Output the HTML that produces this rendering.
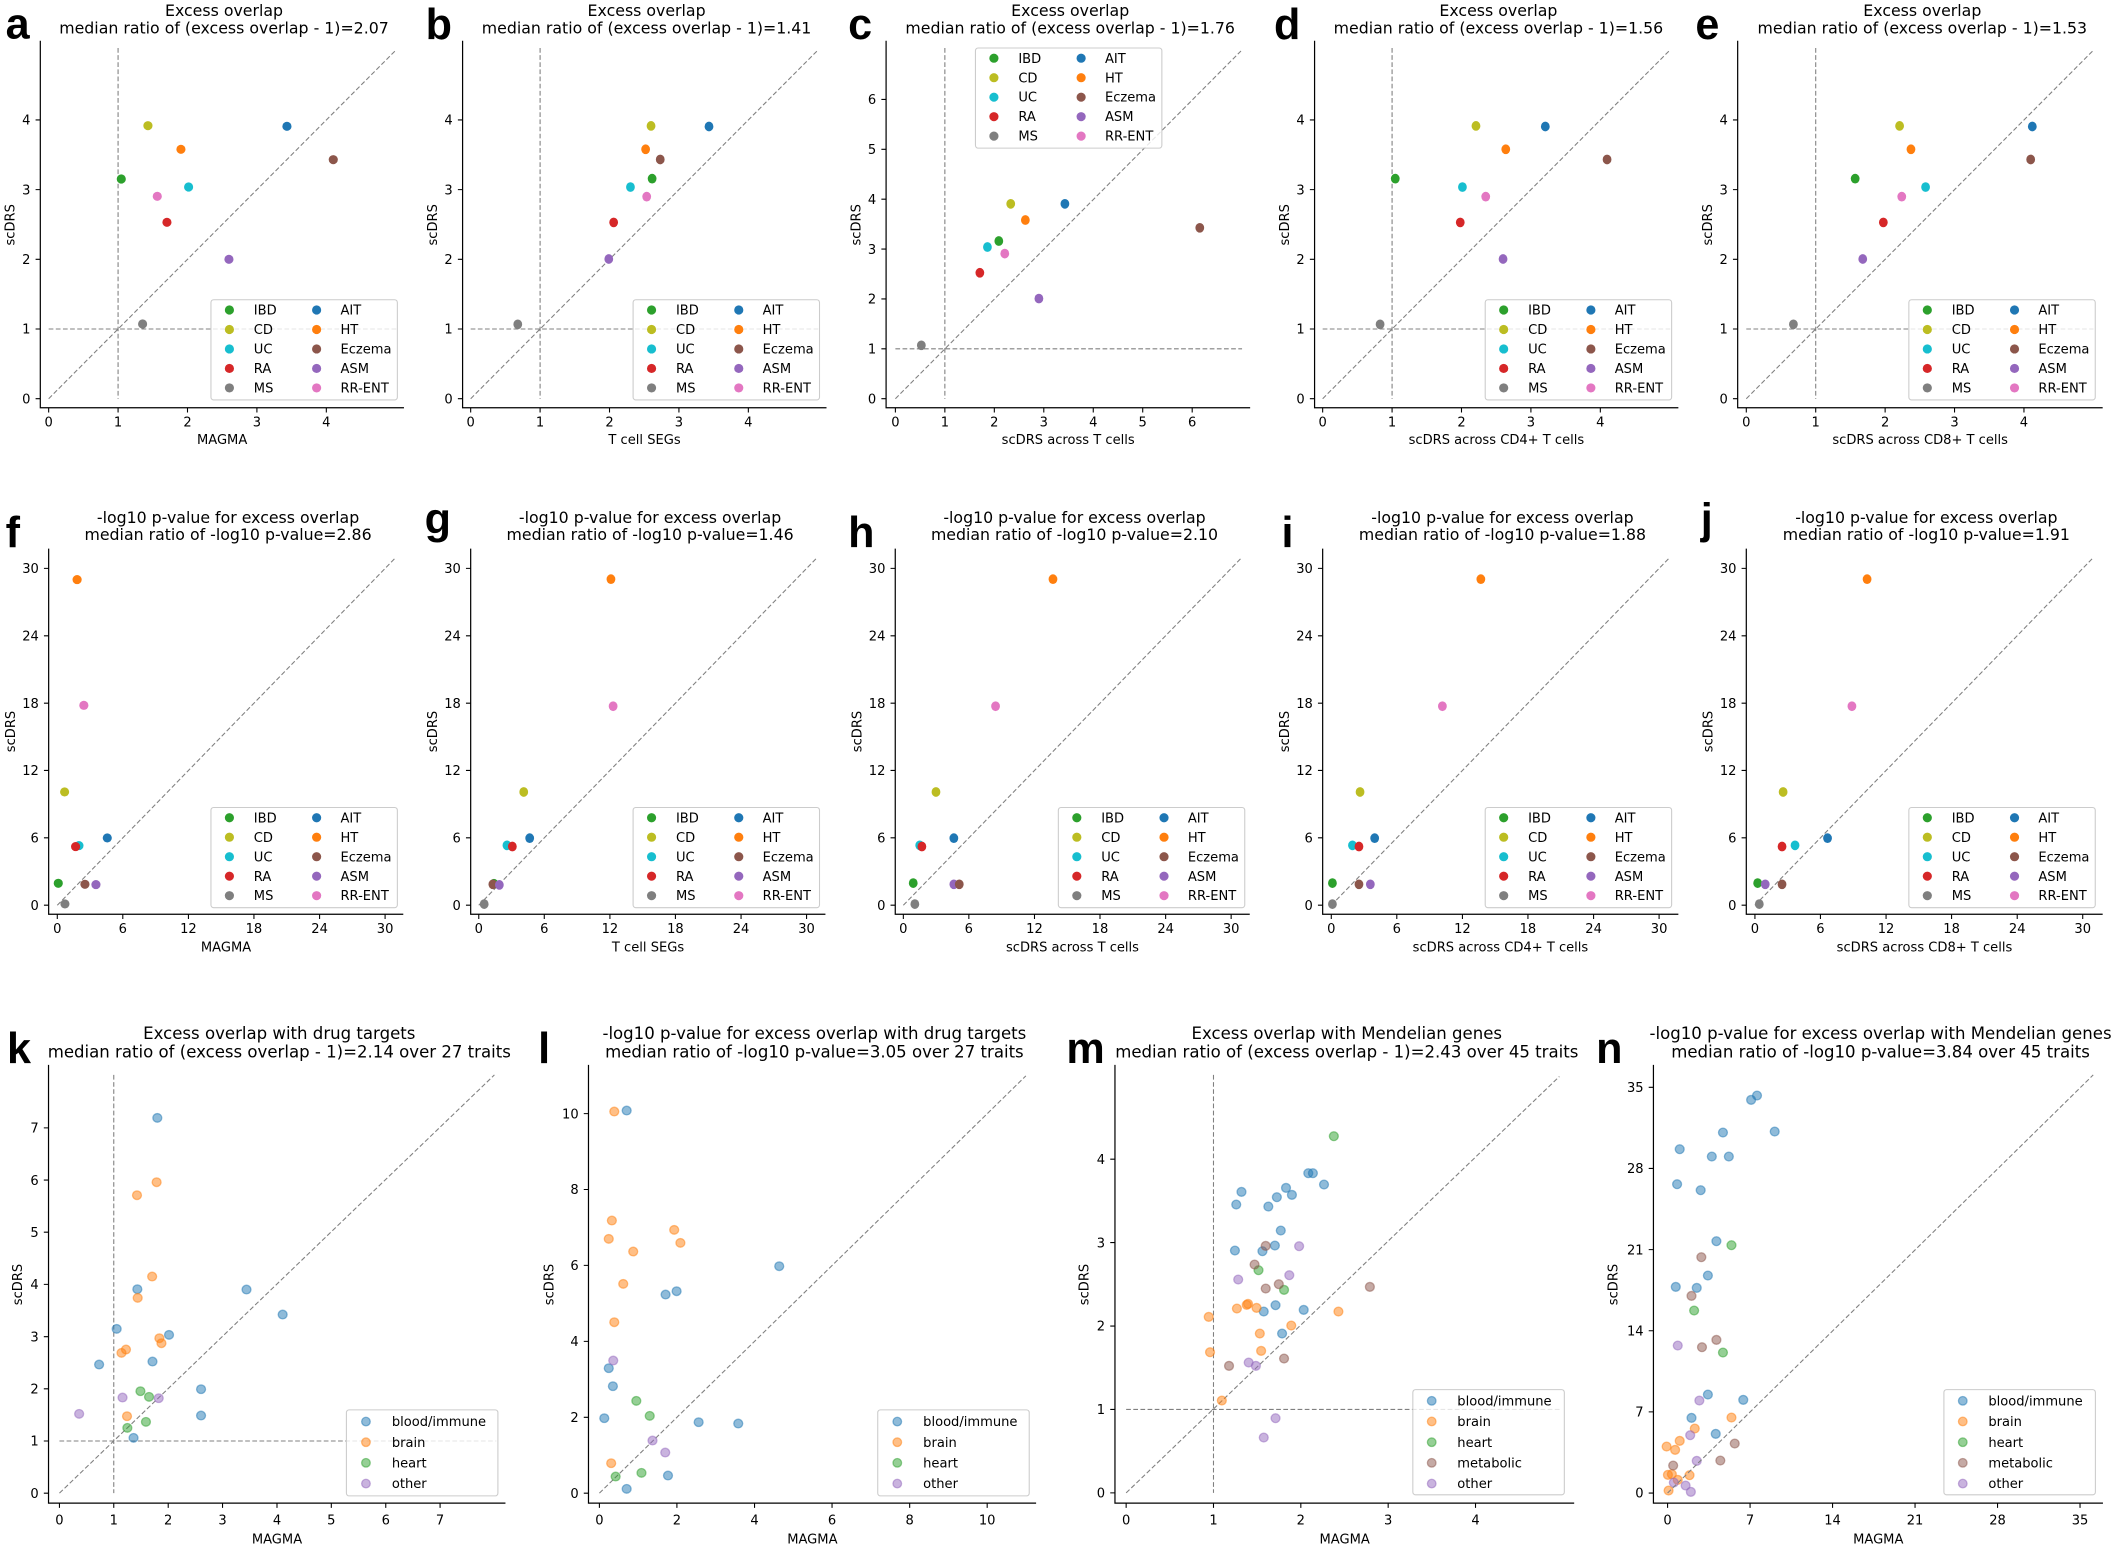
<!DOCTYPE html>
<html><head><meta charset="utf-8"><style>
html,body{margin:0;padding:0;background:#fff}
svg{display:block}
text{font-family:"DejaVu Sans","Liberation Sans",sans-serif;font-size:9.7px;fill:#000}
.t{font-size:11.7px;text-anchor:middle}
.t3{font-size:12.3px;text-anchor:middle}
.L{font-family:"Liberation Sans",sans-serif;font-weight:bold;font-size:32px}
.xt{text-anchor:middle}.yt{text-anchor:end}.yl{text-anchor:middle}
.sp{stroke:#000;stroke-width:.9;fill:none}
.tk{stroke:#000;stroke-width:.8;fill:none}
.d{stroke:#808080;stroke-width:.8;stroke-dasharray:3.5 1.8;fill:none}
.lg{fill:#fff;fill-opacity:.8;stroke:#ccc;stroke-width:.8}
.g{fill:#2ca02c}.o{fill:#bcbd22}.c{fill:#17becf}.r{fill:#d62728}.m{fill:#7f7f7f}
.b{fill:#1f77b4}.h{fill:#ff7f0e}.e{fill:#8c564b}.p{fill:#9467bd}.k{fill:#e377c2}
.a circle,.a ellipse{fill-opacity:.5;stroke-opacity:.5;stroke-width:1.3;vector-effect:non-scaling-stroke}
.a .b{stroke:#1f77b4}.a .h{stroke:#ff7f0e}.a .g{stroke:#2ca02c}.a .e{stroke:#8c564b}.a .p{stroke:#9467bd}
</style></head><body>
<svg width="2114" height="1546" viewBox="0 0 1568 1147" xmlns="http://www.w3.org/2000/svg">
<rect width="1568" height="1147" fill="#fff"/>

<!-- ================= ROW 1 ================= -->
<!-- panel a -->
<text class="L" x="4" y="28.5">a</text>
<text class="t" x="166" y="11.9">Excess overlap</text>
<text class="t" x="166" y="24.8">median ratio of (excess overlap - 1)=2.07</text>
<path class="d" d="M87.4 35.6V295.8M35.9 244.1H294M35.9 295.8L293.4 37.3"/>
<path class="sp" d="M29.7 30.2V302.5H299.5"/>
<path class="tk" d="M35.9 302.5v3.5M87.4 302.5v3.5M138.9 302.5v3.5M190.4 302.5v3.5M241.9 302.5v3.5M29.7 295.8h-3.5M29.7 244.1h-3.5M29.7 192.4h-3.5M29.7 140.7h-3.5M29.7 89h-3.5"/>
<text class="xt" x="35.9" y="316.3">0</text><text class="xt" x="87.4" y="316.3">1</text><text class="xt" x="138.9" y="316.3">2</text><text class="xt" x="190.4" y="316.3">3</text><text class="xt" x="241.9" y="316.3">4</text>
<text class="yt" x="22.4" y="299.3">0</text><text class="yt" x="22.4" y="247.6">1</text><text class="yt" x="22.4" y="195.9">2</text><text class="yt" x="22.4" y="144.2">3</text><text class="yt" x="22.4" y="92.5">4</text>
<text class="xt" x="164.6" y="329.5">MAGMA</text>
<text class="yl" transform="translate(10.6,166.8) rotate(-90)">scDRS</text>
<g transform="scale(0.2473)">
<circle class="g" cx="363" cy="537" r="13.7"/><circle class="o" cx="443" cy="377" r="13.7"/><circle class="h" cx="542" cy="448" r="13.7"/><circle class="c" cx="565" cy="561" r="13.7"/><circle class="k" cx="471" cy="589" r="13.7"/><circle class="r" cx="500" cy="667" r="13.7"/><circle class="p" cx="686" cy="778" r="13.7"/><circle class="b" cx="860" cy="379" r="13.7"/><circle class="e" cx="999" cy="479" r="13.7"/><circle class="m" cx="427" cy="972" r="13.7"/>
</g>
<g transform="translate(156.3,222.4)">
<rect class="lg" width="138.3" height="74.3" rx="2"/>
<circle class="g" cx="13.7" cy="7.6" r="3.4"/><circle class="o" cx="13.7" cy="22.05" r="3.4"/><circle class="c" cx="13.7" cy="36.5" r="3.4"/><circle class="r" cx="13.7" cy="50.95" r="3.4"/><circle class="m" cx="13.7" cy="65.4" r="3.4"/>
<circle class="b" cx="78.4" cy="7.6" r="3.4"/><circle class="h" cx="78.4" cy="22.05" r="3.4"/><circle class="e" cx="78.4" cy="36.5" r="3.4"/><circle class="p" cx="78.4" cy="50.95" r="3.4"/><circle class="k" cx="78.4" cy="65.4" r="3.4"/>
<text x="31.8" y="11">IBD</text><text x="31.8" y="25.45">CD</text><text x="31.8" y="39.9">UC</text><text x="31.8" y="54.35">RA</text><text x="31.8" y="68.8">MS</text>
<text x="96.1" y="11">AIT</text><text x="96.1" y="25.45">HT</text><text x="96.1" y="39.9">Eczema</text><text x="96.1" y="54.35">ASM</text><text x="96.1" y="68.8">RR-ENT</text>
</g>

<!-- panel b -->
<text class="L" x="315.6" y="28.9">b</text>
<text class="t" x="479.5" y="11.9">Excess overlap</text>
<text class="t" x="479.5" y="24.8">median ratio of (excess overlap - 1)=1.41</text>
<path class="d" d="M400.5 35.6V295.8M349 244.1H607M349 295.8L606.5 37.3"/>
<path class="sp" d="M343 30.2V302.5H613"/>
<path class="tk" d="M349 302.5v3.5M400.5 302.5v3.5M452 302.5v3.5M503.5 302.5v3.5M555 302.5v3.5M343 295.8h-3.5M343 244.1h-3.5M343 192.4h-3.5M343 140.7h-3.5M343 89h-3.5"/>
<text class="xt" x="349" y="316.3">0</text><text class="xt" x="400.5" y="316.3">1</text><text class="xt" x="452" y="316.3">2</text><text class="xt" x="503.5" y="316.3">3</text><text class="xt" x="555" y="316.3">4</text>
<text class="yt" x="335.7" y="299.3">0</text><text class="yt" x="335.7" y="247.6">1</text><text class="yt" x="335.7" y="195.9">2</text><text class="yt" x="335.7" y="144.2">3</text><text class="yt" x="335.7" y="92.5">4</text>
<text class="xt" x="478" y="329.5">T cell SEGs</text>
<text class="yl" transform="translate(323.9,166.8) rotate(-90)">scDRS</text>

<!-- panel c -->
<text class="L" x="629" y="28.9">c</text>
<text class="t" x="793.8" y="11.9">Excess overlap</text>
<text class="t" x="793.8" y="24.8">median ratio of (excess overlap - 1)=1.76</text>
<path class="d" d="M700.8 35.6V295.8M664.1 258.8H921.3M664.1 295.8L920.5 37.8"/>
<path class="sp" d="M657.2 30.2V302.5H927.3"/>
<path class="tk" d="M664.1 302.5v3.5M700.8 302.5v3.5M737.5 302.5v3.5M774.2 302.5v3.5M810.9 302.5v3.5M847.6 302.5v3.5M884.3 302.5v3.5M657.2 295.8h-3.5M657.2 258.8h-3.5M657.2 221.8h-3.5M657.2 184.8h-3.5M657.2 147.8h-3.5M657.2 110.8h-3.5M657.2 73.8h-3.5"/>
<text class="xt" x="664.1" y="316.3">0</text><text class="xt" x="700.8" y="316.3">1</text><text class="xt" x="737.5" y="316.3">2</text><text class="xt" x="774.2" y="316.3">3</text><text class="xt" x="810.9" y="316.3">4</text><text class="xt" x="847.6" y="316.3">5</text><text class="xt" x="884.3" y="316.3">6</text>
<text class="yt" x="649.9" y="299.3">0</text><text class="yt" x="649.9" y="262.3">1</text><text class="yt" x="649.9" y="225.3">2</text><text class="yt" x="649.9" y="188.3">3</text><text class="yt" x="649.9" y="151.3">4</text><text class="yt" x="649.9" y="114.3">5</text><text class="yt" x="649.9" y="77.3">6</text>
<text class="xt" x="792.3" y="329.5">scDRS across T cells</text>
<text class="yl" transform="translate(638.1,166.8) rotate(-90)">scDRS</text>

<!-- panel d -->
<text class="L" x="945" y="28.9">d</text>
<text class="t" x="1111.5" y="11.9">Excess overlap</text>
<text class="t" x="1111.5" y="24.8">median ratio of (excess overlap - 1)=1.56</text>
<path class="d" d="M1032.6 35.6V295.8M981.1 244.1H1239M981.1 295.8L1238.6 37.3"/>
<path class="sp" d="M975.1 30.2V302.5H1245"/>
<path class="tk" d="M981.1 302.5v3.5M1032.6 302.5v3.5M1084.1 302.5v3.5M1135.6 302.5v3.5M1187.1 302.5v3.5M975.1 295.8h-3.5M975.1 244.1h-3.5M975.1 192.4h-3.5M975.1 140.7h-3.5M975.1 89h-3.5"/>
<text class="xt" x="981.1" y="316.3">0</text><text class="xt" x="1032.6" y="316.3">1</text><text class="xt" x="1084.1" y="316.3">2</text><text class="xt" x="1135.6" y="316.3">3</text><text class="xt" x="1187.1" y="316.3">4</text>
<text class="yt" x="967.8" y="299.3">0</text><text class="yt" x="967.8" y="247.6">1</text><text class="yt" x="967.8" y="195.9">2</text><text class="yt" x="967.8" y="144.2">3</text><text class="yt" x="967.8" y="92.5">4</text>
<text class="xt" x="1110" y="329.5">scDRS across CD4+ T cells</text>
<text class="yl" transform="translate(956,166.8) rotate(-90)">scDRS</text>

<!-- panel e -->
<text class="L" x="1257.6" y="28.9">e</text>
<text class="t" x="1426" y="11.9">Excess overlap</text>
<text class="t" x="1426" y="24.8">median ratio of (excess overlap - 1)=1.53</text>
<path class="d" d="M1346.9 35.6V295.8M1295.4 244.1H1553M1295.4 295.8L1552.9 37.3"/>
<path class="sp" d="M1289 30.2V302.5H1559.8"/>
<path class="tk" d="M1295.4 302.5v3.5M1346.9 302.5v3.5M1398.4 302.5v3.5M1449.9 302.5v3.5M1501.4 302.5v3.5M1289 295.8h-3.5M1289 244.1h-3.5M1289 192.4h-3.5M1289 140.7h-3.5M1289 89h-3.5"/>
<text class="xt" x="1295.4" y="316.3">0</text><text class="xt" x="1346.9" y="316.3">1</text><text class="xt" x="1398.4" y="316.3">2</text><text class="xt" x="1449.9" y="316.3">3</text><text class="xt" x="1501.4" y="316.3">4</text>
<text class="yt" x="1281.7" y="299.3">0</text><text class="yt" x="1281.7" y="247.6">1</text><text class="yt" x="1281.7" y="195.9">2</text><text class="yt" x="1281.7" y="144.2">3</text><text class="yt" x="1281.7" y="92.5">4</text>
<text class="xt" x="1424.4" y="329.5">scDRS across CD8+ T cells</text>
<text class="yl" transform="translate(1269.9,166.8) rotate(-90)">scDRS</text>

<!-- ================= ROW 2 ================= -->
<!-- f -->
<text class="L" x="4" y="405.7">f</text>
<text class="t" x="169" y="388.2">-log10 p-value for excess overlap</text>
<text class="t" x="169" y="400.6">median ratio of -log10 p-value=2.86</text>
<path class="d" d="M42.3 671.6L293.5 413.5"/>
<path class="sp" d="M35.9 407V678.3H299"/>
<path class="tk" d="M42.3 678.3v3.5M90.9 678.3v3.5M139.6 678.3v3.5M188.2 678.3v3.5M236.9 678.3v3.5M285.5 678.3v3.5M35.9 671.6h-3.5M35.9 621.6h-3.5M35.9 571.6h-3.5M35.9 521.7h-3.5M35.9 471.7h-3.5M35.9 421.7h-3.5"/>
<text class="xt" x="42.3" y="692.1">0</text><text class="xt" x="90.9" y="692.1">6</text><text class="xt" x="139.6" y="692.1">12</text><text class="xt" x="188.2" y="692.1">18</text><text class="xt" x="236.9" y="692.1">24</text><text class="xt" x="285.5" y="692.1">30</text>
<text class="yt" x="28.6" y="675.1">0</text><text class="yt" x="28.6" y="625.1">6</text><text class="yt" x="28.6" y="575.1">12</text><text class="yt" x="28.6" y="525.2">18</text><text class="yt" x="28.6" y="475.2">24</text><text class="yt" x="28.6" y="425.2">30</text>
<text class="xt" x="167.5" y="706">MAGMA</text>
<text class="yl" transform="translate(10.8,542.7) rotate(-90)">scDRS</text>
<g transform="translate(0,563.8) scale(0.2473)">
<circle class="o" cx="193" cy="96" r="13.7"/><circle class="b" cx="321" cy="234" r="13.7"/><circle class="c" cx="236" cy="257" r="13.7"/><circle class="r" cx="226" cy="260" r="13.7"/><circle class="g" cx="174" cy="370" r="13.7"/><circle class="e" cx="254" cy="373" r="13.7"/><circle class="p" cx="287" cy="374" r="13.7"/><circle class="m" cx="194" cy="432" r="13.7"/>
</g>
<circle class="h" cx="57" cy="430" r="3.4"/><circle class="k" cx="62" cy="523.3" r="3.4"/>

<!-- g -->
<text class="L" x="314.8" y="396">g</text>
<text class="t" x="482.1" y="388.2">-log10 p-value for excess overlap</text>
<text class="t" x="482.1" y="400.6">median ratio of -log10 p-value=1.46</text>
<path class="d" d="M355 671.6L606.2 413.5"/>
<path class="sp" d="M349 407V678.3H612.2"/>
<path class="tk" d="M355 678.3v3.5M403.6 678.3v3.5M452.3 678.3v3.5M500.9 678.3v3.5M549.6 678.3v3.5M598.2 678.3v3.5M349 671.6h-3.5M349 621.6h-3.5M349 571.6h-3.5M349 521.7h-3.5M349 471.7h-3.5M349 421.7h-3.5"/>
<text class="xt" x="355" y="692.1">0</text><text class="xt" x="403.6" y="692.1">6</text><text class="xt" x="452.3" y="692.1">12</text><text class="xt" x="500.9" y="692.1">18</text><text class="xt" x="549.6" y="692.1">24</text><text class="xt" x="598.2" y="692.1">30</text>
<text class="yt" x="341.7" y="675.1">0</text><text class="yt" x="341.7" y="625.1">6</text><text class="yt" x="341.7" y="575.1">12</text><text class="yt" x="341.7" y="525.2">18</text><text class="yt" x="341.7" y="475.2">24</text><text class="yt" x="341.7" y="425.2">30</text>
<text class="xt" x="480.6" y="706">T cell SEGs</text>
<text class="yl" transform="translate(323.9,542.7) rotate(-90)">scDRS</text>

<!-- h -->
<text class="L" x="629" y="405.7">h</text>
<text class="t" x="797" y="388.2">-log10 p-value for excess overlap</text>
<text class="t" x="797" y="400.6">median ratio of -log10 p-value=2.10</text>
<path class="d" d="M670 671.6L921.2 413.5"/>
<path class="sp" d="M664 407V678.3H927"/>
<path class="tk" d="M670 678.3v3.5M718.6 678.3v3.5M767.3 678.3v3.5M815.9 678.3v3.5M864.6 678.3v3.5M913.2 678.3v3.5M664 671.6h-3.5M664 621.6h-3.5M664 571.6h-3.5M664 521.7h-3.5M664 471.7h-3.5M664 421.7h-3.5"/>
<text class="xt" x="670" y="692.1">0</text><text class="xt" x="718.6" y="692.1">6</text><text class="xt" x="767.3" y="692.1">12</text><text class="xt" x="815.9" y="692.1">18</text><text class="xt" x="864.6" y="692.1">24</text><text class="xt" x="913.2" y="692.1">30</text>
<text class="yt" x="656.7" y="675.1">0</text><text class="yt" x="656.7" y="625.1">6</text><text class="yt" x="656.7" y="575.1">12</text><text class="yt" x="656.7" y="525.2">18</text><text class="yt" x="656.7" y="475.2">24</text><text class="yt" x="656.7" y="425.2">30</text>
<text class="xt" x="795.5" y="706">scDRS across T cells</text>
<text class="yl" transform="translate(638.9,542.7) rotate(-90)">scDRS</text>

<!-- i -->
<text class="L" x="950.6" y="405.7">i</text>
<text class="t" x="1114.5" y="388.2">-log10 p-value for excess overlap</text>
<text class="t" x="1114.5" y="400.6">median ratio of -log10 p-value=1.88</text>
<path class="d" d="M987.5 671.6L1238.7 413.5"/>
<path class="sp" d="M981.1 407V678.3H1245"/>
<path class="tk" d="M987.5 678.3v3.5M1036.1 678.3v3.5M1084.8 678.3v3.5M1133.4 678.3v3.5M1182.1 678.3v3.5M1230.7 678.3v3.5M981.1 671.6h-3.5M981.1 621.6h-3.5M981.1 571.6h-3.5M981.1 521.7h-3.5M981.1 471.7h-3.5M981.1 421.7h-3.5"/>
<text class="xt" x="987.5" y="692.1">0</text><text class="xt" x="1036.1" y="692.1">6</text><text class="xt" x="1084.8" y="692.1">12</text><text class="xt" x="1133.4" y="692.1">18</text><text class="xt" x="1182.1" y="692.1">24</text><text class="xt" x="1230.7" y="692.1">30</text>
<text class="yt" x="973.8" y="675.1">0</text><text class="yt" x="973.8" y="625.1">6</text><text class="yt" x="973.8" y="575.1">12</text><text class="yt" x="973.8" y="525.2">18</text><text class="yt" x="973.8" y="475.2">24</text><text class="yt" x="973.8" y="425.2">30</text>
<text class="xt" x="1113" y="706">scDRS across CD4+ T cells</text>
<text class="yl" transform="translate(956,542.7) rotate(-90)">scDRS</text>

<!-- j -->
<text class="L" x="1261.6" y="396">j</text>
<text class="t" x="1429" y="388.2">-log10 p-value for excess overlap</text>
<text class="t" x="1429" y="400.6">median ratio of -log10 p-value=1.91</text>
<path class="d" d="M1301.8 671.6L1553 413.5"/>
<path class="sp" d="M1295.4 407V678.3H1559.8"/>
<path class="tk" d="M1301.8 678.3v3.5M1350.4 678.3v3.5M1399.1 678.3v3.5M1447.7 678.3v3.5M1496.4 678.3v3.5M1545 678.3v3.5M1295.4 671.6h-3.5M1295.4 621.6h-3.5M1295.4 571.6h-3.5M1295.4 521.7h-3.5M1295.4 471.7h-3.5M1295.4 421.7h-3.5"/>
<text class="xt" x="1301.8" y="692.1">0</text><text class="xt" x="1350.4" y="692.1">6</text><text class="xt" x="1399.1" y="692.1">12</text><text class="xt" x="1447.7" y="692.1">18</text><text class="xt" x="1496.4" y="692.1">24</text><text class="xt" x="1545" y="692.1">30</text>
<text class="yt" x="1288.1" y="675.1">0</text><text class="yt" x="1288.1" y="625.1">6</text><text class="yt" x="1288.1" y="575.1">12</text><text class="yt" x="1288.1" y="525.2">18</text><text class="yt" x="1288.1" y="475.2">24</text><text class="yt" x="1288.1" y="425.2">30</text>
<text class="xt" x="1427.6" y="706">scDRS across CD8+ T cells</text>
<text class="yl" transform="translate(1270.3,542.7) rotate(-90)">scDRS</text>

<!-- scatter points from zoom 7 (b,c,g,h) -->
<g transform="translate(311.6,0) scale(0.4019,0.4448)">
<circle class="o" cx="426" cy="210" r="8.1"/><circle class="b" cx="533" cy="211" r="8.1"/><circle class="h" cx="416" cy="249" r="8.1"/><circle class="e" cx="443" cy="266" r="8.1"/><circle class="g" cx="428" cy="298" r="8.1"/><circle class="c" cx="388" cy="312" r="8.1"/><circle class="k" cx="418" cy="328" r="8.1"/><circle class="r" cx="357" cy="371" r="8.1"/><circle class="p" cx="348" cy="432" r="8.1"/><circle class="m" cx="180" cy="541" r="8.1"/>
<circle class="o" cx="1090" cy="340" r="8.1"/><circle class="b" cx="1190" cy="340" r="8.1"/><circle class="h" cx="1117" cy="367" r="8.1"/><circle class="e" cx="1439" cy="380" r="8.1"/><circle class="g" cx="1068" cy="402" r="8.1"/><circle class="c" cx="1047" cy="412" r="8.1"/><circle class="k" cx="1079" cy="423" r="8.1"/><circle class="r" cx="1033" cy="455" r="8.1"/><circle class="p" cx="1142" cy="498" r="8.1"/><circle class="m" cx="925" cy="576" r="8.1"/>
<circle class="h" cx="352" cy="966" r="8.1"/><circle class="k" cx="356" cy="1178" r="8.1"/><circle class="o" cx="191" cy="1321" r="8.1"/><circle class="b" cx="202" cy="1398" r="8.1"/><circle class="c" cx="160" cy="1410" r="8.1"/><circle class="r" cx="170" cy="1412" r="8.1"/><circle class="g" cx="136" cy="1474" r="8.1"/><circle class="e" cx="134" cy="1475" r="8.1"/><circle class="p" cx="146" cy="1476" r="8.1"/><circle class="m" cx="118" cy="1508" r="8.1"/>
<circle class="h" cx="1168" cy="966" r="8.1"/><circle class="k" cx="1062" cy="1178" r="8.1"/><circle class="o" cx="952" cy="1321" r="8.1"/><circle class="b" cx="985" cy="1398" r="8.1"/><circle class="c" cx="922" cy="1410" r="8.1"/><circle class="r" cx="926" cy="1412" r="8.1"/><circle class="g" cx="910" cy="1473" r="8.1"/><circle class="p" cx="985" cy="1475" r="8.1"/><circle class="e" cx="995" cy="1475" r="8.1"/><circle class="m" cx="913" cy="1508" r="8.1"/>
</g>
<!-- scatter points from zoom 8 (d,e,i,j) -->
<g transform="translate(937.7,0) scale(0.4019,0.4448)">
<circle class="o" cx="391" cy="210" r="8.1"/><circle class="b" cx="519" cy="211" r="8.1"/><circle class="h" cx="446" cy="249" r="8.1"/><circle class="e" cx="633" cy="266" r="8.1"/><circle class="g" cx="242" cy="298" r="8.1"/><circle class="c" cx="366" cy="312" r="8.1"/><circle class="k" cx="409" cy="328" r="8.1"/><circle class="r" cx="362" cy="371" r="8.1"/><circle class="p" cx="441" cy="432" r="8.1"/><circle class="m" cx="214" cy="541" r="8.1"/>
<circle class="o" cx="1173" cy="210" r="8.1"/><circle class="b" cx="1418" cy="211" r="8.1"/><circle class="h" cx="1194" cy="249" r="8.1"/><circle class="e" cx="1415" cy="266" r="8.1"/><circle class="g" cx="1091" cy="298" r="8.1"/><circle class="c" cx="1221" cy="312" r="8.1"/><circle class="k" cx="1177" cy="328" r="8.1"/><circle class="r" cx="1143" cy="371" r="8.1"/><circle class="p" cx="1105" cy="432" r="8.1"/><circle class="m" cx="977" cy="541" r="8.1"/>
<circle class="h" cx="400" cy="966" r="8.1"/><circle class="k" cx="329" cy="1178" r="8.1"/><circle class="o" cx="177" cy="1321" r="8.1"/><circle class="b" cx="204" cy="1398" r="8.1"/><circle class="c" cx="163" cy="1410" r="8.1"/><circle class="r" cx="175" cy="1412" r="8.1"/><circle class="g" cx="126" cy="1473" r="8.1"/><circle class="e" cx="175" cy="1475" r="8.1"/><circle class="p" cx="196" cy="1475" r="8.1"/><circle class="m" cx="126" cy="1508" r="8.1"/>
<circle class="h" cx="1113" cy="966" r="8.1"/><circle class="k" cx="1085" cy="1178" r="8.1"/><circle class="o" cx="958" cy="1321" r="8.1"/><circle class="b" cx="1040" cy="1398" r="8.1"/><circle class="c" cx="980" cy="1410" r="8.1"/><circle class="r" cx="956" cy="1412" r="8.1"/><circle class="g" cx="911" cy="1473" r="8.1"/><circle class="p" cx="925" cy="1475" r="8.1"/><circle class="e" cx="956" cy="1475" r="8.1"/><circle class="m" cx="914" cy="1508" r="8.1"/>
</g>

<!-- legends rows 1-2 -->
<g transform="translate(469.5,222.4)">
<rect class="lg" width="138.3" height="74.3" rx="2"/>
<circle class="g" cx="13.7" cy="7.6" r="3.4"/><circle class="o" cx="13.7" cy="22.05" r="3.4"/><circle class="c" cx="13.7" cy="36.5" r="3.4"/><circle class="r" cx="13.7" cy="50.95" r="3.4"/><circle class="m" cx="13.7" cy="65.4" r="3.4"/>
<circle class="b" cx="78.4" cy="7.6" r="3.4"/><circle class="h" cx="78.4" cy="22.05" r="3.4"/><circle class="e" cx="78.4" cy="36.5" r="3.4"/><circle class="p" cx="78.4" cy="50.95" r="3.4"/><circle class="k" cx="78.4" cy="65.4" r="3.4"/>
<text x="31.8" y="11">IBD</text><text x="31.8" y="25.45">CD</text><text x="31.8" y="39.9">UC</text><text x="31.8" y="54.35">RA</text><text x="31.8" y="68.8">MS</text>
<text x="96.1" y="11">AIT</text><text x="96.1" y="25.45">HT</text><text x="96.1" y="39.9">Eczema</text><text x="96.1" y="54.35">ASM</text><text x="96.1" y="68.8">RR-ENT</text>
</g>
<g transform="translate(723.5,35.6)">
<rect class="lg" width="138.3" height="74.3" rx="2"/>
<circle class="g" cx="13.7" cy="7.6" r="3.4"/><circle class="o" cx="13.7" cy="22.05" r="3.4"/><circle class="c" cx="13.7" cy="36.5" r="3.4"/><circle class="r" cx="13.7" cy="50.95" r="3.4"/><circle class="m" cx="13.7" cy="65.4" r="3.4"/>
<circle class="b" cx="78.4" cy="7.6" r="3.4"/><circle class="h" cx="78.4" cy="22.05" r="3.4"/><circle class="e" cx="78.4" cy="36.5" r="3.4"/><circle class="p" cx="78.4" cy="50.95" r="3.4"/><circle class="k" cx="78.4" cy="65.4" r="3.4"/>
<text x="31.8" y="11">IBD</text><text x="31.8" y="25.45">CD</text><text x="31.8" y="39.9">UC</text><text x="31.8" y="54.35">RA</text><text x="31.8" y="68.8">MS</text>
<text x="96.1" y="11">AIT</text><text x="96.1" y="25.45">HT</text><text x="96.1" y="39.9">Eczema</text><text x="96.1" y="54.35">ASM</text><text x="96.1" y="68.8">RR-ENT</text>
</g>
<g transform="translate(1101.7,222.4)">
<rect class="lg" width="138.3" height="74.3" rx="2"/>
<circle class="g" cx="13.7" cy="7.6" r="3.4"/><circle class="o" cx="13.7" cy="22.05" r="3.4"/><circle class="c" cx="13.7" cy="36.5" r="3.4"/><circle class="r" cx="13.7" cy="50.95" r="3.4"/><circle class="m" cx="13.7" cy="65.4" r="3.4"/>
<circle class="b" cx="78.4" cy="7.6" r="3.4"/><circle class="h" cx="78.4" cy="22.05" r="3.4"/><circle class="e" cx="78.4" cy="36.5" r="3.4"/><circle class="p" cx="78.4" cy="50.95" r="3.4"/><circle class="k" cx="78.4" cy="65.4" r="3.4"/>
<text x="31.8" y="11">IBD</text><text x="31.8" y="25.45">CD</text><text x="31.8" y="39.9">UC</text><text x="31.8" y="54.35">RA</text><text x="31.8" y="68.8">MS</text>
<text x="96.1" y="11">AIT</text><text x="96.1" y="25.45">HT</text><text x="96.1" y="39.9">Eczema</text><text x="96.1" y="54.35">ASM</text><text x="96.1" y="68.8">RR-ENT</text>
</g>
<g transform="translate(1416,222.4)">
<rect class="lg" width="138.3" height="74.3" rx="2"/>
<circle class="g" cx="13.7" cy="7.6" r="3.4"/><circle class="o" cx="13.7" cy="22.05" r="3.4"/><circle class="c" cx="13.7" cy="36.5" r="3.4"/><circle class="r" cx="13.7" cy="50.95" r="3.4"/><circle class="m" cx="13.7" cy="65.4" r="3.4"/>
<circle class="b" cx="78.4" cy="7.6" r="3.4"/><circle class="h" cx="78.4" cy="22.05" r="3.4"/><circle class="e" cx="78.4" cy="36.5" r="3.4"/><circle class="p" cx="78.4" cy="50.95" r="3.4"/><circle class="k" cx="78.4" cy="65.4" r="3.4"/>
<text x="31.8" y="11">IBD</text><text x="31.8" y="25.45">CD</text><text x="31.8" y="39.9">UC</text><text x="31.8" y="54.35">RA</text><text x="31.8" y="68.8">MS</text>
<text x="96.1" y="11">AIT</text><text x="96.1" y="25.45">HT</text><text x="96.1" y="39.9">Eczema</text><text x="96.1" y="54.35">ASM</text><text x="96.1" y="68.8">RR-ENT</text>
</g>
<g transform="translate(156.3,599.1)">
<rect class="lg" width="138.3" height="74.3" rx="2"/>
<circle class="g" cx="13.7" cy="7.6" r="3.4"/><circle class="o" cx="13.7" cy="22.05" r="3.4"/><circle class="c" cx="13.7" cy="36.5" r="3.4"/><circle class="r" cx="13.7" cy="50.95" r="3.4"/><circle class="m" cx="13.7" cy="65.4" r="3.4"/>
<circle class="b" cx="78.4" cy="7.6" r="3.4"/><circle class="h" cx="78.4" cy="22.05" r="3.4"/><circle class="e" cx="78.4" cy="36.5" r="3.4"/><circle class="p" cx="78.4" cy="50.95" r="3.4"/><circle class="k" cx="78.4" cy="65.4" r="3.4"/>
<text x="31.8" y="11">IBD</text><text x="31.8" y="25.45">CD</text><text x="31.8" y="39.9">UC</text><text x="31.8" y="54.35">RA</text><text x="31.8" y="68.8">MS</text>
<text x="96.1" y="11">AIT</text><text x="96.1" y="25.45">HT</text><text x="96.1" y="39.9">Eczema</text><text x="96.1" y="54.35">ASM</text><text x="96.1" y="68.8">RR-ENT</text>
</g>
<g transform="translate(469.5,599.1)">
<rect class="lg" width="138.3" height="74.3" rx="2"/>
<circle class="g" cx="13.7" cy="7.6" r="3.4"/><circle class="o" cx="13.7" cy="22.05" r="3.4"/><circle class="c" cx="13.7" cy="36.5" r="3.4"/><circle class="r" cx="13.7" cy="50.95" r="3.4"/><circle class="m" cx="13.7" cy="65.4" r="3.4"/>
<circle class="b" cx="78.4" cy="7.6" r="3.4"/><circle class="h" cx="78.4" cy="22.05" r="3.4"/><circle class="e" cx="78.4" cy="36.5" r="3.4"/><circle class="p" cx="78.4" cy="50.95" r="3.4"/><circle class="k" cx="78.4" cy="65.4" r="3.4"/>
<text x="31.8" y="11">IBD</text><text x="31.8" y="25.45">CD</text><text x="31.8" y="39.9">UC</text><text x="31.8" y="54.35">RA</text><text x="31.8" y="68.8">MS</text>
<text x="96.1" y="11">AIT</text><text x="96.1" y="25.45">HT</text><text x="96.1" y="39.9">Eczema</text><text x="96.1" y="54.35">ASM</text><text x="96.1" y="68.8">RR-ENT</text>
</g>
<g transform="translate(785,599.1)">
<rect class="lg" width="138.3" height="74.3" rx="2"/>
<circle class="g" cx="13.7" cy="7.6" r="3.4"/><circle class="o" cx="13.7" cy="22.05" r="3.4"/><circle class="c" cx="13.7" cy="36.5" r="3.4"/><circle class="r" cx="13.7" cy="50.95" r="3.4"/><circle class="m" cx="13.7" cy="65.4" r="3.4"/>
<circle class="b" cx="78.4" cy="7.6" r="3.4"/><circle class="h" cx="78.4" cy="22.05" r="3.4"/><circle class="e" cx="78.4" cy="36.5" r="3.4"/><circle class="p" cx="78.4" cy="50.95" r="3.4"/><circle class="k" cx="78.4" cy="65.4" r="3.4"/>
<text x="31.8" y="11">IBD</text><text x="31.8" y="25.45">CD</text><text x="31.8" y="39.9">UC</text><text x="31.8" y="54.35">RA</text><text x="31.8" y="68.8">MS</text>
<text x="96.1" y="11">AIT</text><text x="96.1" y="25.45">HT</text><text x="96.1" y="39.9">Eczema</text><text x="96.1" y="54.35">ASM</text><text x="96.1" y="68.8">RR-ENT</text>
</g>
<g transform="translate(1101.7,599.1)">
<rect class="lg" width="138.3" height="74.3" rx="2"/>
<circle class="g" cx="13.7" cy="7.6" r="3.4"/><circle class="o" cx="13.7" cy="22.05" r="3.4"/><circle class="c" cx="13.7" cy="36.5" r="3.4"/><circle class="r" cx="13.7" cy="50.95" r="3.4"/><circle class="m" cx="13.7" cy="65.4" r="3.4"/>
<circle class="b" cx="78.4" cy="7.6" r="3.4"/><circle class="h" cx="78.4" cy="22.05" r="3.4"/><circle class="e" cx="78.4" cy="36.5" r="3.4"/><circle class="p" cx="78.4" cy="50.95" r="3.4"/><circle class="k" cx="78.4" cy="65.4" r="3.4"/>
<text x="31.8" y="11">IBD</text><text x="31.8" y="25.45">CD</text><text x="31.8" y="39.9">UC</text><text x="31.8" y="54.35">RA</text><text x="31.8" y="68.8">MS</text>
<text x="96.1" y="11">AIT</text><text x="96.1" y="25.45">HT</text><text x="96.1" y="39.9">Eczema</text><text x="96.1" y="54.35">ASM</text><text x="96.1" y="68.8">RR-ENT</text>
</g>
<g transform="translate(1416,599.1)">
<rect class="lg" width="138.3" height="74.3" rx="2"/>
<circle class="g" cx="13.7" cy="7.6" r="3.4"/><circle class="o" cx="13.7" cy="22.05" r="3.4"/><circle class="c" cx="13.7" cy="36.5" r="3.4"/><circle class="r" cx="13.7" cy="50.95" r="3.4"/><circle class="m" cx="13.7" cy="65.4" r="3.4"/>
<circle class="b" cx="78.4" cy="7.6" r="3.4"/><circle class="h" cx="78.4" cy="22.05" r="3.4"/><circle class="e" cx="78.4" cy="36.5" r="3.4"/><circle class="p" cx="78.4" cy="50.95" r="3.4"/><circle class="k" cx="78.4" cy="65.4" r="3.4"/>
<text x="31.8" y="11">IBD</text><text x="31.8" y="25.45">CD</text><text x="31.8" y="39.9">UC</text><text x="31.8" y="54.35">RA</text><text x="31.8" y="68.8">MS</text>
<text x="96.1" y="11">AIT</text><text x="96.1" y="25.45">HT</text><text x="96.1" y="39.9">Eczema</text><text x="96.1" y="54.35">ASM</text><text x="96.1" y="68.8">RR-ENT</text>
</g>

<!-- ================= ROW 3 ================= -->
<!-- k -->
<text class="L" x="5" y="788.6">k</text>
<text class="t3" x="207" y="770.8">Excess overlap with drug targets</text>
<text class="t3" x="207" y="784.5">median ratio of (excess overlap - 1)=2.14 over 27 traits</text>
<path class="d" d="M84.2 797.5V1107.8M43.9 1069.1H368M43.9 1107.8L366.6 797.5"/>
<path class="sp" d="M35.8 790V1115.2H374.8"/>
<path class="tk" d="M43.9 1115.2v3.5M84.2 1115.2v3.5M124.6 1115.2v3.5M164.9 1115.2v3.5M205.3 1115.2v3.5M245.6 1115.2v3.5M286 1115.2v3.5M326.3 1115.2v3.5M35.8 1107.8h-3.5M35.8 1069.1h-3.5M35.8 1030.4h-3.5M35.8 991.7h-3.5M35.8 952.9h-3.5M35.8 914.2h-3.5M35.8 875.5h-3.5M35.8 836.8h-3.5"/>
<text class="xt" x="43.9" y="1131.1">0</text><text class="xt" x="84.2" y="1131.1">1</text><text class="xt" x="124.6" y="1131.1">2</text><text class="xt" x="164.9" y="1131.1">3</text><text class="xt" x="205.3" y="1131.1">4</text><text class="xt" x="245.6" y="1131.1">5</text><text class="xt" x="286" y="1131.1">6</text><text class="xt" x="326.3" y="1131.1">7</text>
<text class="yt" x="28.5" y="1111.3">0</text><text class="yt" x="28.5" y="1072.6">1</text><text class="yt" x="28.5" y="1033.9">2</text><text class="yt" x="28.5" y="995.2">3</text><text class="yt" x="28.5" y="956.4">4</text><text class="yt" x="28.5" y="917.7">5</text><text class="yt" x="28.5" y="879">6</text><text class="yt" x="28.5" y="840.3">7</text>
<text class="xt" x="205.3" y="1145.2">MAGMA</text>
<text class="yl" transform="translate(16.3,953) rotate(-90)">scDRS</text>
<g class="a" transform="translate(0,771.5) scale(0.2555,0.2473)">
<circle class="b" cx="456" cy="234" r="13"/><circle class="b" cx="338" cy="867" r="13"/><circle class="b" cx="398" cy="748" r="13"/><circle class="b" cx="715" cy="749" r="13"/><circle class="b" cx="820" cy="824" r="13"/><circle class="b" cx="490" cy="885" r="13"/><circle class="b" cx="287" cy="974" r="13"/><circle class="b" cx="442" cy="965" r="13"/><circle class="b" cx="583" cy="1048" r="13"/><circle class="b" cx="583" cy="1127" r="13"/><circle class="b" cx="387" cy="1194" r="13"/>
<circle class="h" cx="454" cy="427" r="13"/><circle class="h" cx="397" cy="466" r="13"/><circle class="h" cx="441" cy="710" r="13"/><circle class="h" cx="399" cy="774" r="13"/><circle class="h" cx="462" cy="895" r="13"/><circle class="h" cx="468" cy="910" r="13"/><circle class="h" cx="352" cy="939" r="13"/><circle class="h" cx="365" cy="929" r="13"/><circle class="h" cx="368" cy="1129" r="13"/>
<circle class="g" cx="407" cy="1054" r="13"/><circle class="g" cx="432" cy="1071" r="13"/><circle class="g" cx="423" cy="1146" r="13"/><circle class="g" cx="369" cy="1164" r="13"/>
<circle class="p" cx="229" cy="1122" r="13"/><circle class="p" cx="355" cy="1073" r="13"/><circle class="p" cx="460" cy="1075" r="13"/>
</g>
<g transform="translate(256.8,1046)">
<rect class="lg" width="112.4" height="63.8" rx="2"/>
<g class="a"><circle class="b" cx="14.5" cy="8.7" r="3.2"/><circle class="h" cx="14.5" cy="24" r="3.2"/><circle class="g" cx="14.5" cy="39.3" r="3.2"/><circle class="p" cx="14.5" cy="54.7" r="3.2"/></g>
<text x="33.7" y="12.1">blood/immune</text><text x="33.7" y="27.4">brain</text><text x="33.7" y="42.7">heart</text><text x="33.7" y="58.1">other</text>
</g>

<!-- l -->
<text class="L" x="399" y="788.6">l</text>
<text class="t3" x="604" y="770.8">-log10 p-value for excess overlap with drug targets</text>
<text class="t3" x="604" y="784.5">median ratio of -log10 p-value=3.05 over 27 traits</text>
<path class="d" d="M444.5 1107.8L760.9 798.2"/>
<path class="sp" d="M436.4 790V1115.2H768.5"/>
<path class="tk" d="M444.5 1115.2v3.5M502 1115.2v3.5M559.6 1115.2v3.5M617.1 1115.2v3.5M674.7 1115.2v3.5M732.2 1115.2v3.5M436.4 1107.8h-3.5M436.4 1051.5h-3.5M436.4 995.2h-3.5M436.4 938.8h-3.5M436.4 882.5h-3.5M436.4 826.2h-3.5"/>
<text class="xt" x="444.5" y="1131.1">0</text><text class="xt" x="502" y="1131.1">2</text><text class="xt" x="559.6" y="1131.1">4</text><text class="xt" x="617.1" y="1131.1">6</text><text class="xt" x="674.7" y="1131.1">8</text><text class="xt" x="732.2" y="1131.1">10</text>
<text class="yt" x="429.1" y="1111.3">0</text><text class="yt" x="429.1" y="1055">2</text><text class="yt" x="429.1" y="998.7">4</text><text class="yt" x="429.1" y="942.3">6</text><text class="yt" x="429.1" y="886">8</text><text class="yt" x="429.1" y="829.7">10</text>
<text class="xt" x="602.5" y="1145.2">MAGMA</text>
<text class="yl" transform="translate(410.5,953) rotate(-90)">scDRS</text>
<g class="a" transform="translate(400.6,771.5) scale(0.2555,0.2473)">
<circle class="b" cx="251" cy="212" r="13"/><circle class="b" cx="694" cy="679" r="13"/><circle class="b" cx="364" cy="764" r="13"/><circle class="b" cx="396" cy="754" r="13"/><circle class="b" cx="199" cy="985" r="13"/><circle class="b" cx="211" cy="1039" r="13"/><circle class="b" cx="186" cy="1135" r="13"/><circle class="b" cx="460" cy="1147" r="13"/><circle class="b" cx="575" cy="1151" r="13"/><circle class="b" cx="371" cy="1307" r="13"/><circle class="b" cx="251" cy="1347" r="13"/>
<circle class="h" cx="215" cy="215" r="13"/><circle class="h" cx="208" cy="542" r="13"/><circle class="h" cx="199" cy="597" r="13"/><circle class="h" cx="270" cy="635" r="13"/><circle class="h" cx="389" cy="570" r="13"/><circle class="h" cx="407" cy="609" r="13"/><circle class="h" cx="241" cy="732" r="13"/><circle class="h" cx="215" cy="847" r="13"/><circle class="h" cx="206" cy="1270" r="13"/>
<circle class="g" cx="279" cy="1083" r="13"/><circle class="g" cx="318" cy="1128" r="13"/><circle class="g" cx="294" cy="1299" r="13"/><circle class="g" cx="219" cy="1310" r="13"/>
<circle class="p" cx="212" cy="962" r="13"/><circle class="p" cx="326" cy="1202" r="13"/><circle class="p" cx="363" cy="1238" r="13"/>
</g>
<g transform="translate(651,1046)">
<rect class="lg" width="112.4" height="63.8" rx="2"/>
<g class="a"><circle class="b" cx="14.5" cy="8.7" r="3.2"/><circle class="h" cx="14.5" cy="24" r="3.2"/><circle class="g" cx="14.5" cy="39.3" r="3.2"/><circle class="p" cx="14.5" cy="54.7" r="3.2"/></g>
<text x="33.7" y="12.1">blood/immune</text><text x="33.7" y="27.4">brain</text><text x="33.7" y="42.7">heart</text><text x="33.7" y="58.1">other</text>
</g>

<!-- m -->
<text class="L" x="791" y="788.6">m</text>
<text class="t3" x="999" y="770.8">Excess overlap with Mendelian genes</text>
<text class="t3" x="999" y="784.5">median ratio of (excess overlap - 1)=2.43 over 45 traits</text>
<path class="d" d="M900.1 797.5V1107.6M835.3 1045.7H1157.7M835.3 1107.6L1156.7 798.7"/>
<path class="sp" d="M827 790V1115.2H1167.7"/>
<path class="tk" d="M835.3 1115.2v3.5M900.1 1115.2v3.5M964.9 1115.2v3.5M1029.7 1115.2v3.5M1094.5 1115.2v3.5M827 1107.6h-3.5M827 1045.7h-3.5M827 983.8h-3.5M827 921.9h-3.5M827 860h-3.5"/>
<text class="xt" x="835.3" y="1131.1">0</text><text class="xt" x="900.1" y="1131.1">1</text><text class="xt" x="964.9" y="1131.1">2</text><text class="xt" x="1029.7" y="1131.1">3</text><text class="xt" x="1094.5" y="1131.1">4</text>
<text class="yt" x="819.7" y="1111.1">0</text><text class="yt" x="819.7" y="1049.2">1</text><text class="yt" x="819.7" y="987.3">2</text><text class="yt" x="819.7" y="925.4">3</text><text class="yt" x="819.7" y="863.5">4</text>
<text class="xt" x="997.4" y="1145.2">MAGMA</text>
<text class="yl" transform="translate(807.5,953) rotate(-90)">scDRS</text>
<g class="a" transform="translate(808.6,771.5) scale(0.486,0.2473)">
<ellipse class="b" cx="223" cy="494" rx="6.8" ry="13.3"/><ellipse class="b" cx="231" cy="456" rx="6.8" ry="13.3"/><ellipse class="b" cx="272" cy="500" rx="6.8" ry="13.3"/><ellipse class="b" cx="285" cy="472" rx="6.8" ry="13.3"/><ellipse class="b" cx="299" cy="444" rx="6.8" ry="13.3"/><ellipse class="b" cx="308" cy="465" rx="6.8" ry="13.3"/><ellipse class="b" cx="333" cy="400" rx="6.8" ry="13.3"/><ellipse class="b" cx="340" cy="400" rx="6.8" ry="13.3"/><ellipse class="b" cx="357" cy="434" rx="6.8" ry="13.3"/><ellipse class="b" cx="221" cy="632" rx="6.8" ry="13.3"/><ellipse class="b" cx="263" cy="634" rx="6.8" ry="13.3"/><ellipse class="b" cx="282" cy="617" rx="6.8" ry="13.3"/><ellipse class="b" cx="291" cy="572" rx="6.8" ry="13.3"/><ellipse class="b" cx="283" cy="796" rx="6.8" ry="13.3"/><ellipse class="b" cx="265" cy="815" rx="6.8" ry="13.3"/><ellipse class="b" cx="326" cy="810" rx="6.8" ry="13.3"/><ellipse class="b" cx="293" cy="881" rx="6.8" ry="13.3"/>
<ellipse class="h" cx="181" cy="831" rx="6.8" ry="13.3"/><ellipse class="h" cx="183" cy="937" rx="6.8" ry="13.3"/><ellipse class="h" cx="224" cy="806" rx="6.8" ry="13.3"/><ellipse class="h" cx="239" cy="795" rx="6.8" ry="13.3"/><ellipse class="h" cx="241" cy="792" rx="6.8" ry="13.3"/><ellipse class="h" cx="254" cy="804" rx="6.8" ry="13.3"/><ellipse class="h" cx="259" cy="881" rx="6.8" ry="13.3"/><ellipse class="h" cx="261" cy="933" rx="6.8" ry="13.3"/><ellipse class="h" cx="307" cy="857" rx="6.8" ry="13.3"/><ellipse class="h" cx="379" cy="815" rx="6.8" ry="13.3"/><ellipse class="h" cx="201" cy="1082" rx="6.8" ry="13.3"/>
<ellipse class="g" cx="372" cy="289" rx="6.8" ry="13.3"/><ellipse class="g" cx="257" cy="691" rx="6.8" ry="13.3"/><ellipse class="g" cx="296" cy="750" rx="6.8" ry="13.3"/>
<ellipse class="e" cx="268" cy="618" rx="6.8" ry="13.3"/><ellipse class="e" cx="251" cy="674" rx="6.8" ry="13.3"/><ellipse class="e" cx="268" cy="746" rx="6.8" ry="13.3"/><ellipse class="e" cx="288" cy="733" rx="6.8" ry="13.3"/><ellipse class="e" cx="427" cy="741" rx="6.8" ry="13.3"/><ellipse class="e" cx="212" cy="978" rx="6.8" ry="13.3"/><ellipse class="e" cx="296" cy="956" rx="6.8" ry="13.3"/>
<ellipse class="p" cx="319" cy="619" rx="6.8" ry="13.3"/><ellipse class="p" cx="226" cy="719" rx="6.8" ry="13.3"/><ellipse class="p" cx="304" cy="706" rx="6.8" ry="13.3"/><ellipse class="p" cx="242" cy="968" rx="6.8" ry="13.3"/><ellipse class="p" cx="253" cy="978" rx="6.8" ry="13.3"/><ellipse class="p" cx="283" cy="1135" rx="6.8" ry="13.3"/><ellipse class="p" cx="265" cy="1193" rx="6.8" ry="13.3"/>
<!-- n -->
<ellipse class="b" cx="1018" cy="167" rx="6.8" ry="13.3"/><ellipse class="b" cx="1009" cy="180" rx="6.8" ry="13.3"/><ellipse class="b" cx="966" cy="278" rx="6.8" ry="13.3"/><ellipse class="b" cx="1045" cy="275" rx="6.8" ry="13.3"/><ellipse class="b" cx="900" cy="328" rx="6.8" ry="13.3"/><ellipse class="b" cx="949" cy="350" rx="6.8" ry="13.3"/><ellipse class="b" cx="975" cy="350" rx="6.8" ry="13.3"/><ellipse class="b" cx="896" cy="433" rx="6.8" ry="13.3"/><ellipse class="b" cx="932" cy="451" rx="6.8" ry="13.3"/><ellipse class="b" cx="956" cy="604" rx="6.8" ry="13.3"/><ellipse class="b" cx="943" cy="707" rx="6.8" ry="13.3"/><ellipse class="b" cx="894" cy="741" rx="6.8" ry="13.3"/><ellipse class="b" cx="926" cy="744" rx="6.8" ry="13.3"/><ellipse class="b" cx="943" cy="1064" rx="6.8" ry="13.3"/><ellipse class="b" cx="997" cy="1080" rx="6.8" ry="13.3"/><ellipse class="b" cx="918" cy="1134" rx="6.8" ry="13.3"/><ellipse class="b" cx="955" cy="1182" rx="6.8" ry="13.3"/>
<ellipse class="h" cx="979" cy="1133" rx="6.8" ry="13.3"/><ellipse class="h" cx="923" cy="1166" rx="6.8" ry="13.3"/><ellipse class="h" cx="900" cy="1203" rx="6.8" ry="13.3"/><ellipse class="h" cx="880" cy="1220" rx="6.8" ry="13.3"/><ellipse class="h" cx="893" cy="1230" rx="6.8" ry="13.3"/><ellipse class="h" cx="882" cy="1305" rx="6.8" ry="13.3"/><ellipse class="h" cx="888" cy="1303" rx="6.8" ry="13.3"/><ellipse class="h" cx="915" cy="1306" rx="6.8" ry="13.3"/><ellipse class="h" cx="897" cy="1320" rx="6.8" ry="13.3"/><ellipse class="h" cx="883" cy="1352" rx="6.8" ry="13.3"/>
<ellipse class="g" cx="979" cy="616" rx="6.8" ry="13.3"/><ellipse class="g" cx="922" cy="812" rx="6.8" ry="13.3"/><ellipse class="g" cx="966" cy="938" rx="6.8" ry="13.3"/>
<ellipse class="e" cx="933" cy="652" rx="6.8" ry="13.3"/><ellipse class="e" cx="918" cy="768" rx="6.8" ry="13.3"/><ellipse class="e" cx="956" cy="900" rx="6.8" ry="13.3"/><ellipse class="e" cx="934" cy="922" rx="6.8" ry="13.3"/><ellipse class="e" cx="984" cy="1211" rx="6.8" ry="13.3"/><ellipse class="e" cx="962" cy="1262" rx="6.8" ry="13.3"/><ellipse class="e" cx="890" cy="1277" rx="6.8" ry="13.3"/>
<ellipse class="p" cx="897" cy="917" rx="6.8" ry="13.3"/><ellipse class="p" cx="930" cy="1082" rx="6.8" ry="13.3"/><ellipse class="p" cx="916" cy="1186" rx="6.8" ry="13.3"/><ellipse class="p" cx="926" cy="1263" rx="6.8" ry="13.3"/><ellipse class="p" cx="891" cy="1328" rx="6.8" ry="13.3"/><ellipse class="p" cx="909" cy="1337" rx="6.8" ry="13.3"/><ellipse class="p" cx="917" cy="1356" rx="6.8" ry="13.3"/>
</g>
<g transform="translate(1048,1031)">
<rect class="lg" width="112.4" height="78" rx="2"/>
<g class="a"><circle class="b" cx="14" cy="8.3" r="3.2"/><circle class="h" cx="14" cy="23.6" r="3.2"/><circle class="g" cx="14" cy="39" r="3.2"/><circle class="e" cx="14" cy="54.3" r="3.2"/><circle class="p" cx="14" cy="69.7" r="3.2"/></g>
<text x="33" y="11.7">blood/immune</text><text x="33" y="27">brain</text><text x="33" y="42.4">heart</text><text x="33" y="57.7">metabolic</text><text x="33" y="73.1">other</text>
</g>

<!-- n -->
<text class="L" x="1184" y="788.6">n</text>
<text class="t3" x="1395" y="770.8">-log10 p-value for excess overlap with Mendelian genes</text>
<text class="t3" x="1395" y="784.5">median ratio of -log10 p-value=3.84 over 45 traits</text>
<path class="d" d="M1237 1107.7L1552.8 797.5"/>
<path class="sp" d="M1226.5 790V1115.2H1560"/>
<path class="tk" d="M1237 1115.2v3.5M1298.2 1115.2v3.5M1359.4 1115.2v3.5M1420.6 1115.2v3.5M1481.8 1115.2v3.5M1543 1115.2v3.5M1226.5 1107.7h-3.5M1226.5 1047.5h-3.5M1226.5 987.3h-3.5M1226.5 927.1h-3.5M1226.5 866.9h-3.5M1226.5 806.7h-3.5"/>
<text class="xt" x="1237" y="1131.1">0</text><text class="xt" x="1298.2" y="1131.1">7</text><text class="xt" x="1359.4" y="1131.1">14</text><text class="xt" x="1420.6" y="1131.1">21</text><text class="xt" x="1481.8" y="1131.1">28</text><text class="xt" x="1543" y="1131.1">35</text>
<text class="yt" x="1219.2" y="1111.2">0</text><text class="yt" x="1219.2" y="1051">7</text><text class="yt" x="1219.2" y="990.8">14</text><text class="yt" x="1219.2" y="930.6">21</text><text class="yt" x="1219.2" y="870.4">28</text><text class="yt" x="1219.2" y="810.2">35</text>
<text class="xt" x="1393.3" y="1145.2">MAGMA</text>
<text class="yl" transform="translate(1200,953) rotate(-90)">scDRS</text>
<g transform="translate(1442,1031)">
<rect class="lg" width="112.4" height="78" rx="2"/>
<g class="a"><circle class="b" cx="14" cy="8.3" r="3.2"/><circle class="h" cx="14" cy="23.6" r="3.2"/><circle class="g" cx="14" cy="39" r="3.2"/><circle class="e" cx="14" cy="54.3" r="3.2"/><circle class="p" cx="14" cy="69.7" r="3.2"/></g>
<text x="33" y="11.7">blood/immune</text><text x="33" y="27">brain</text><text x="33" y="42.4">heart</text><text x="33" y="57.7">metabolic</text><text x="33" y="73.1">other</text>
</g>
</svg>
</body></html>
